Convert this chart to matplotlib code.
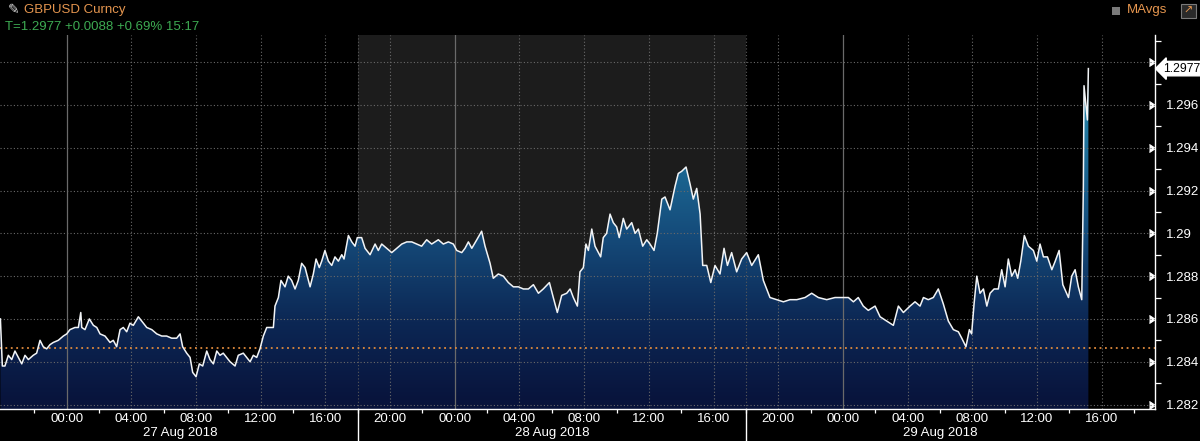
import numpy as np
import matplotlib
matplotlib.use("Agg")
import matplotlib.pyplot as plt
from matplotlib.colors import LinearSegmentedColormap
from matplotlib.ticker import FixedLocator, FuncFormatter
from matplotlib.transforms import blended_transform_factory
from matplotlib.lines import CARETRIGHT
from matplotlib.patches import Rectangle

plt.rcParams['font.family'] = ['Liberation Sans', 'DejaVu Sans']

# ---------------- data (hours since 27 Aug 2018 00:00) ----------------
hours = [
    -4.10, -3.98, -3.82, -3.61, -3.40, -3.20, -2.99, -2.78, -2.58, -2.37,
    -2.07, -1.86, -1.65, -1.45, -1.24, -1.03, -0.83, -0.52, -0.21, 0.00,
    0.20, 0.51, 0.72, 0.87, 0.93, 1.13, 1.40, 1.65, 1.86, 2.06,
    2.37, 2.68, 2.88, 3.09, 3.30, 3.50, 3.71, 3.91, 4.12, 4.43,
    4.64, 4.95, 5.26, 5.57, 5.88, 6.18, 6.49, 6.80, 7.01, 7.17,
    7.42, 7.63, 7.79, 8.00, 8.20, 8.41, 8.66, 8.86, 9.07, 9.28,
    9.48, 9.68, 9.89, 10.10, 10.41, 10.61, 10.92, 11.13, 11.34, 11.54,
    11.75, 11.95, 12.16, 12.37, 12.57, 12.78, 12.88, 13.09, 13.25, 13.50,
    13.70, 13.91, 14.12, 14.32, 14.53, 14.74, 15.05, 15.25, 15.42, 15.62,
    15.77, 15.97, 16.18, 16.39, 16.59, 16.80, 17.01, 17.15, 17.42, 17.63,
    17.83, 17.97, 18.24, 18.45, 18.76, 19.07, 19.27, 19.48, 19.79, 20.10,
    20.41, 20.72, 21.03, 21.34, 21.65, 21.95, 22.26, 22.57, 22.98, 23.29,
    23.60, 23.91, 24.12, 24.43, 24.63, 24.84, 25.05, 25.36, 25.66, 25.87,
    26.18, 26.38, 26.69, 27.00, 27.31, 27.62, 27.93, 28.24, 28.55, 28.86,
    29.17, 29.47, 29.85, 30.09, 30.34, 30.61, 30.92, 31.13, 31.33, 31.58,
    31.74, 31.95, 32.11, 32.26, 32.47, 32.67, 32.88, 33.02, 33.18, 33.39,
    33.60, 33.80, 34.01, 34.17, 34.42, 34.63, 34.94, 35.15, 35.35, 35.62,
    35.87, 36.07, 36.32, 36.52, 36.80, 37.00, 37.31, 37.62, 37.82, 38.03,
    38.30, 38.55, 38.75, 38.96, 39.17, 39.33, 39.58, 39.83, 40.09, 40.40,
    40.65, 40.86, 41.12, 41.43, 41.74, 42.05, 42.36, 42.77, 43.08, 43.49,
    43.91, 44.32, 44.73, 45.15, 45.66, 46.07, 46.48, 47.00, 47.51, 47.82,
    48.34, 48.65, 48.95, 49.26, 49.57, 49.99, 50.30, 50.71, 51.12, 51.43,
    51.74, 52.15, 52.46, 52.77, 52.98, 53.28, 53.59, 53.90, 54.21, 54.52,
    54.83, 55.14, 55.35, 55.61, 55.82, 55.96, 56.11, 56.28, 56.48, 56.69,
    56.90, 57.10, 57.35, 57.61, 57.82, 58.03, 58.23, 58.44, 58.65, 58.81,
    59.00, 59.22, 59.47, 59.78, 59.99, 60.19, 60.40, 60.65, 60.92, 61.13,
    61.37, 61.60, 61.95, 62.15, 62.36, 62.56, 62.77, 62.87, 62.91, 63.04,
    63.12, 63.18,
]
prices = [
    1.2860, 1.2838, 1.2838, 1.2843, 1.2841, 1.2845, 1.2842, 1.2839, 1.2843, 1.2841,
    1.2843, 1.2844, 1.2850, 1.2847, 1.2846, 1.2848, 1.2849, 1.2850, 1.2852, 1.2853,
    1.2855, 1.2856, 1.2856, 1.2863, 1.2856, 1.2855, 1.2860, 1.2857, 1.2856, 1.2853,
    1.2852, 1.2849, 1.2850, 1.2847, 1.2855, 1.2856, 1.2854, 1.2858, 1.2857, 1.2861,
    1.2859, 1.2856, 1.2855, 1.2853, 1.2852, 1.2852, 1.2851, 1.2851, 1.2853, 1.2847,
    1.2844, 1.2842, 1.2835, 1.2833, 1.2839, 1.2838, 1.2845, 1.2841, 1.2839, 1.2845,
    1.2843, 1.2844, 1.2842, 1.2840, 1.2838, 1.2843, 1.2844, 1.2842, 1.2840, 1.2843,
    1.2842, 1.2846, 1.2852, 1.2856, 1.2856, 1.2856, 1.2866, 1.2870, 1.2878, 1.2875,
    1.2880, 1.2878, 1.2874, 1.2878, 1.2886, 1.2884, 1.2875, 1.2881, 1.2888, 1.2884,
    1.2887, 1.2892, 1.2887, 1.2885, 1.2889, 1.2887, 1.2890, 1.2888, 1.2899, 1.2896,
    1.2894, 1.2898, 1.2898, 1.2893, 1.2890, 1.2895, 1.2892, 1.2895, 1.2893, 1.2891,
    1.2893, 1.2895, 1.2896, 1.2896, 1.2895, 1.2894, 1.2897, 1.2895, 1.2897, 1.2895,
    1.2896, 1.2895, 1.2892, 1.2891, 1.2893, 1.2896, 1.2893, 1.2897, 1.2901, 1.2894,
    1.2886, 1.2879, 1.2881, 1.2880, 1.2877, 1.2875, 1.2875, 1.2874, 1.2874, 1.2876,
    1.2872, 1.2874, 1.2877, 1.2870, 1.2863, 1.2871, 1.2872, 1.2874, 1.2870, 1.2866,
    1.2882, 1.2884, 1.2895, 1.2892, 1.2902, 1.2894, 1.2891, 1.2889, 1.2898, 1.2900,
    1.2909, 1.2905, 1.2903, 1.2898, 1.2907, 1.2902, 1.2905, 1.2900, 1.2902, 1.2894,
    1.2897, 1.2895, 1.2892, 1.2900, 1.2916, 1.2917, 1.2911, 1.2922, 1.2928, 1.2929,
    1.2931, 1.2923, 1.2916, 1.2921, 1.2909, 1.2885, 1.2885, 1.2877, 1.2885, 1.2881,
    1.2893, 1.2885, 1.2891, 1.2882, 1.2888, 1.2891, 1.2885, 1.2890, 1.2878, 1.2870,
    1.2869, 1.2868, 1.2869, 1.2869, 1.2870, 1.2872, 1.2870, 1.2869, 1.2870, 1.2870,
    1.2870, 1.2868, 1.2870, 1.2866, 1.2864, 1.2866, 1.2861, 1.2859, 1.2857, 1.2866,
    1.2863, 1.2866, 1.2868, 1.2866, 1.2870, 1.2869, 1.2870, 1.2874, 1.2867, 1.2859,
    1.2855, 1.2854, 1.2851, 1.2847, 1.2855, 1.2853, 1.2867, 1.2880, 1.2872, 1.2874,
    1.2866, 1.2872, 1.2874, 1.2874, 1.2883, 1.2875, 1.2888, 1.2880, 1.2883, 1.2879,
    1.2887, 1.2899, 1.2894, 1.2892, 1.2887, 1.2895, 1.2889, 1.2889, 1.2883, 1.2887,
    1.2892, 1.2876, 1.2870, 1.2880, 1.2883, 1.2875, 1.2869, 1.2922, 1.2969, 1.2959,
    1.2953, 1.2977,
]

ticker_title = "GBPUSD Curncy"
quote_line = "T=1.2977 +0.0088 +0.69% 15:17"
last_price = 1.2977
ref_price = 1.28465
session_breaks = [18, 42]
day_labels = ["27 Aug 2018", "28 Aug 2018", "29 Aug 2018"]
day_label_hours = [7, 30, 54]
y_major = [1.282, 1.284, 1.286, 1.288, 1.290, 1.292, 1.294, 1.296, 1.298]
y_minor = [1.283, 1.285, 1.287, 1.289, 1.291, 1.293, 1.295, 1.297, 1.299]
x_major = list(range(0, 68, 4))
x_minor = list(range(-2, 68, 4))
midnights = [0, 24, 48]

# ---------------- figure ----------------
W, H = 1200, 441
fig = plt.figure(figsize=(W / 100, H / 100), dpi=100, facecolor="black")
top_px, bot_px, right_px = 35, 409, 1155
ax = fig.add_axes([0, (H - bot_px) / H, right_px / W, (bot_px - top_px) / H])
ax.set_facecolor("black")

x0, x1 = -4.125, 67.30
y0, y1 = 1.28179, 1.29927
ax.set_xlim(x0, x1)
ax.set_ylim(y0, y1)

# session shading
ax.axvspan(session_breaks[0], session_breaks[1], color="#1c1c1c", zorder=0, lw=0)

# gradient area fill
poly = ax.fill_between(hours, prices, y0, color="none", lw=0)
cmap = LinearSegmentedColormap.from_list(
    "bbg", [(0.0, "#08123a"), (0.25, "#0c2754"), (0.5, "#154b7a"),
            (0.72, "#1c6a95"), (1.0, "#2b93b4")])
grad = np.linspace(0, 1, 256).reshape(-1, 1)
im = ax.imshow(grad, extent=[x0, x1, y0, 1.298], origin="lower", aspect="auto",
               cmap=cmap, zorder=1, interpolation="bilinear")
im.set_clip_path(poly.get_paths()[0], transform=ax.transData)

# grids
dot = (0, (1, 2))
for h in x_major:
    if h in midnights:
        ax.axvline(h, color="#6a6a6a", lw=0.9, zorder=2)
    else:
        ax.axvline(h, color="#6a6a6a", lw=0.8, ls=dot, zorder=2)
for h in session_breaks:
    ax.axvline(h, color="#5a5a5a", lw=0.8, ls=dot, zorder=2)
for v in y_major:
    ax.axhline(v, color="#6a6a6a", lw=0.8, ls=dot, zorder=2)

ax.axhline(ref_price, color="#e08a3c", lw=1.3, ls=dot, zorder=2.6)

# price line
ax.plot(hours, prices, color="#f2f4f6", lw=1.1, zorder=3)

# axes styling
for s in ["left", "top"]:
    ax.spines[s].set_visible(False)
for s in ["right", "bottom"]:
    ax.spines[s].set_color("white")
    ax.spines[s].set_linewidth(1.0)
    ax.spines[s].set_zorder(4)


def ylab(v, p):
    if abs(v - last_price) < 0.0012:
        return ""  # hidden behind the last-price tag
    return f"{v:.3f}".rstrip("0")


ax.yaxis.tick_right()
ax.yaxis.set_major_locator(FixedLocator(y_major))
ax.yaxis.set_minor_locator(FixedLocator(y_minor))
ax.yaxis.set_major_formatter(FuncFormatter(ylab))
ax.tick_params(axis="y", which="major", colors="white", labelsize=9.5, length=0, pad=8,
               left=False, right=True)
ax.tick_params(axis="y", which="minor", colors="white", length=4, width=0.9,
               left=False, right=True)
for t in ax.yaxis.get_major_ticks():
    t.tick2line.set_marker(CARETRIGHT)
    t.tick2line.set_markersize(6)
    t.tick2line.set_color("white")
    t.tick2line.set_markeredgecolor("white")
    t.tick2line.set_markerfacecolor("white")

ax.xaxis.set_major_locator(FixedLocator(x_major))
ax.xaxis.set_minor_locator(FixedLocator(x_minor))
ax.xaxis.set_major_formatter(FuncFormatter(lambda v, p: f"{int(round(v)) % 24:02d}:00"))
ax.tick_params(axis="x", which="major", colors="white", labelsize=9.5, length=0, pad=3)
ax.tick_params(axis="x", which="minor", colors="white", length=3, width=0.9)

# day labels and session dividers in the time band
trans = blended_transform_factory(ax.transData, ax.transAxes)
band = (H - bot_px) / (bot_px - top_px)
for h, lab in zip(day_label_hours, day_labels):
    ax.text(h, -(433 - bot_px) / (bot_px - top_px), lab, transform=trans, color="white",
            fontsize=9.5, ha="center", va="center")
for h in session_breaks:
    ax.axvline(h, ymin=-band, ymax=0, color="white", lw=1.0, clip_on=False, zorder=4)

# last price tag
tag_trans = blended_transform_factory(ax.transAxes, ax.transData)
ax.text(1.0 + 8 / right_px, last_price, f"{last_price:.4f}", transform=tag_trans,
        color="black", fontsize=8.8, ha="left", va="center", zorder=6, clip_on=False,
        bbox=dict(boxstyle="larrow,pad=0.1", fc="white", ec="white"))

# header
fig.text(8 / W, 1 - 10 / H, "\u270e", color="#dddddd", fontsize=10, va="center",
         family="DejaVu Sans")
fig.text(24 / W, 1 - 10.5 / H, ticker_title, color="#e6964f", fontsize=9.5, va="center")
fig.text(5 / W, 1 - 27 / H, quote_line, color="#3daa52", fontsize=9.5, va="center")
fig.text(1127 / W, 1 - 10.5 / H, "MAvgs", color="#e6964f", fontsize=9.5, va="center")
fig.patches.append(Rectangle((1112 / W, 1 - 15 / H), 8 / W, 8 / H, transform=fig.transFigure,
                             fc="#7a7a7a", ec="none"))
fig.patches.append(Rectangle((1181 / W, 1 - 18 / H), 15 / W, 14 / H, transform=fig.transFigure,
                             fc="#2a2a2a", ec="#7a7a7a", lw=0.8))
fig.text(1188.5 / W, 1 - 11 / H, "\u2197", color="#e6964f", fontsize=8, va="center",
         ha="center", family="DejaVu Sans")

fig.savefig("out.png", dpi=100, facecolor="black")
